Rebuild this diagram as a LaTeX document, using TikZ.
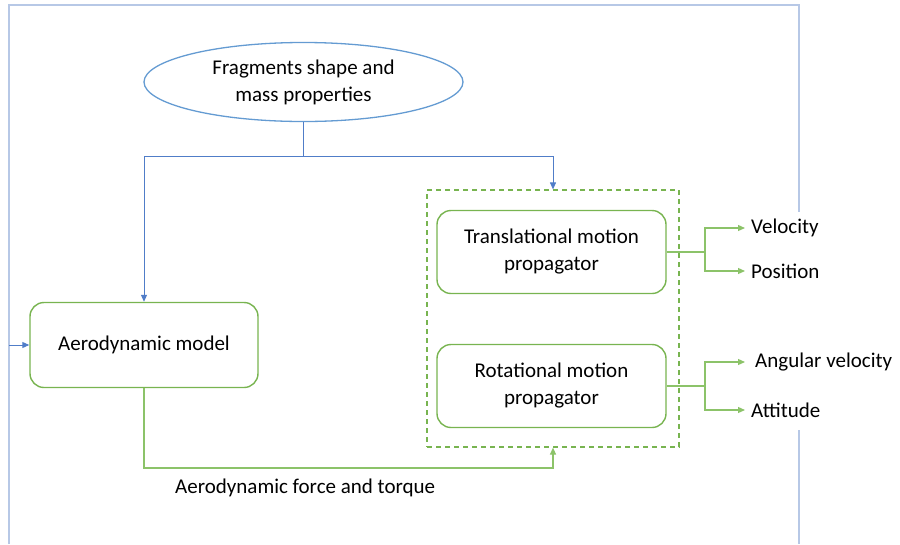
\documentclass[tikz,border=0pt]{standalone}
\usepackage{fontspec}
\setmainfont{Carlito}
\usetikzlibrary{arrows.meta,shapes.geometric}
\definecolor{outerblue}{RGB}{183,200,230}
\definecolor{ellblue}{RGB}{100,155,210}
\definecolor{conblue}{RGB}{80,125,200}
\definecolor{boxgreen}{RGB}{120,180,80}
\definecolor{lingreen}{RGB}{140,195,105}
\tikzset{
  x=1pt, y=-1pt,
  every node/.style={font=\fontsize{21}{27}\selectfont, text=black},
  gbox/.style={draw=boxgreen, line width=1.4pt, rounded corners=14pt, fill=white, align=center, inner sep=0pt},
  ell/.style={draw=ellblue, line width=1.3pt, ellipse, align=center},
  bcon/.style={draw=conblue, line width=1pt, -{Triangle[length=7pt,width=6pt]}},
  bline/.style={draw=conblue, line width=1pt},
  gcon/.style={draw=lingreen, line width=1.2pt, -{Triangle[length=7pt,width=6pt]}},
  gline/.style={draw=lingreen, line width=1.2pt},
  ocon/.style={draw=outerblue, line width=1.4pt},
  lab/.style={anchor=west, inner sep=0pt},
}
\begin{document}
\begin{tikzpicture}
\useasboundingbox (0,0) rectangle (900,544);
% nodes
\node[ell, minimum width=319pt, minimum height=79pt, inner sep=0pt] (frag) at (303.5,82) {Fragments shape and\\mass properties};
\node[gbox, minimum width=228pt, minimum height=85pt] (aero) at (144,345) {Aerodynamic model};
\node[draw=boxgreen, line width=1.2pt, dash pattern=on 5pt off 4pt, minimum width=252pt, minimum height=257pt, inner sep=0pt] (prop) at (553,318.5) {};
\node[gbox, minimum width=229pt, minimum height=83pt] (trans) at (551.5,252) {Translational motion\\propagator};
\node[gbox, minimum width=229pt, minimum height=83pt] (rot) at (551.5,386) {Rotational motion\\propagator};
\node[lab] (vel) at (751,228) {Velocity};
\node[lab] (pos) at (751,271) {Position};
\node[lab] (angv) at (755,362) {Angular velocity};
\node[lab] (att) at (751,410) {Attitude};
\node[anchor=west, inner sep=0pt] (force) at (175,488) {Aerodynamic force and torque};
% coordinates
\coordinate (split) at (303.5,156);
\coordinate (tl) at (9,5);
\coordinate (tr) at (799,5);
\coordinate (bl) at (9,544);
\coordinate (rgapA) at (799,212);
\coordinate (rgapB) at (799,430);
\coordinate (br) at (799,544);
\coordinate (ain) at (9,345);
\coordinate (tbr) at (705,252);
\coordinate (rbr) at (705,386);
\coordinate (fy) at (0,468);
% outer feedback loop
\draw[ocon] (bl) -- (tl) -- (tr) -- (rgapA);
\draw[ocon] (rgapB) -- (br);
\draw[bcon] (ain) -- (aero.west);
% fragments connectors
\draw[bline] (frag.south) -- (split);
\draw[bcon] (split) -| (aero.north);
\draw[bcon] (split) -| (prop.north);
% force connector
\draw[gcon] (aero.south) |- (prop.south |- fy) -- (prop.south);
% outputs
\draw[gline] (trans.east) -- (tbr);
\draw[gcon] (tbr) |- ([xshift=-6pt]vel.west);
\draw[gcon] (tbr) |- ([xshift=-6pt]pos.west);
\draw[gline] (rot.east) -- (rbr);
\draw[gcon] (rbr) |- ([xshift=-10pt]angv.west);
\draw[gcon] (rbr) |- ([xshift=-6pt]att.west);
\end{tikzpicture}
\end{document}
